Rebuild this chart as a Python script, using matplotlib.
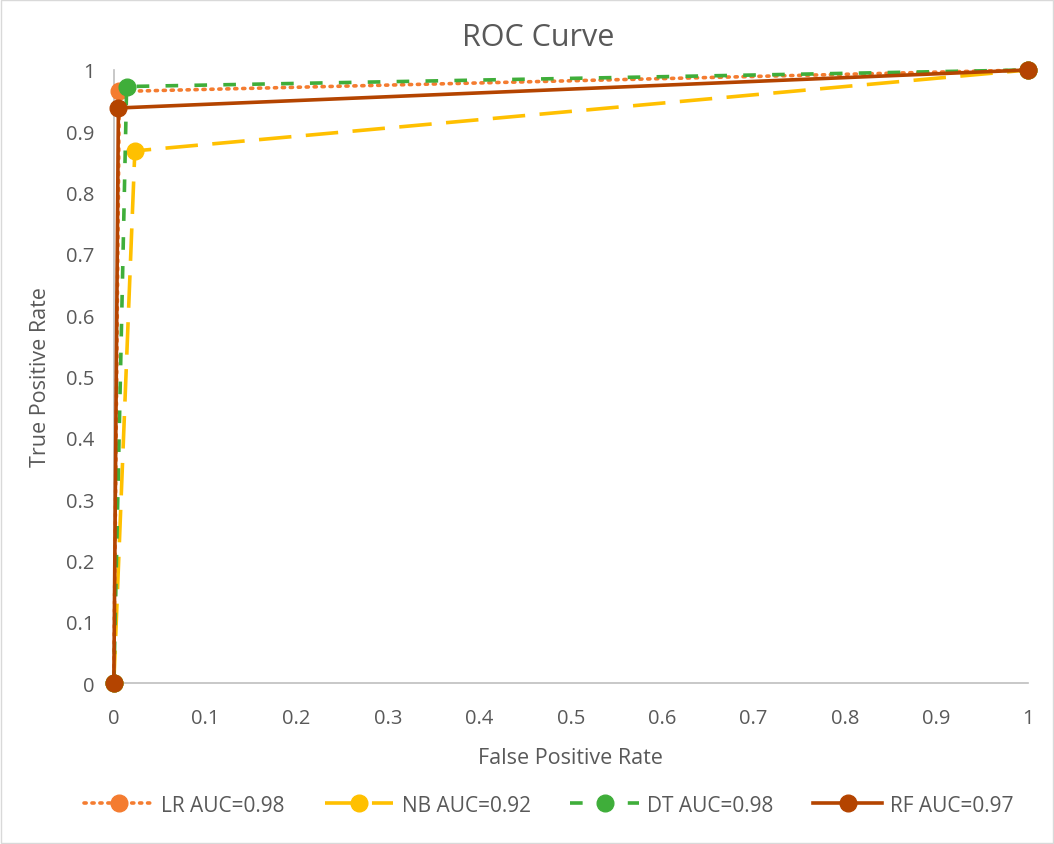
import matplotlib
matplotlib.use('Agg')
import matplotlib.pyplot as plt
from matplotlib.patches import Rectangle

plt.rcParams['font.family'] = ['Open Sans', 'DejaVu Sans']

# ROC points per model
lr_fpr = [0, 0.006, 1]
lr_tpr = [0, 0.965, 1]
nb_fpr = [0, 0.023, 1]
nb_tpr = [0, 0.868, 1]
dt_fpr = [0, 0.014, 1]
dt_tpr = [0, 0.973, 1]
rf_fpr = [0, 0.005, 1]
rf_tpr = [0, 0.938, 1]

labels = ['LR AUC=0.98', 'NB AUC=0.92', 'DT AUC=0.98', 'RF AUC=0.97']
xticks = [0, 0.1, 0.2, 0.3, 0.4, 0.5, 0.6, 0.7, 0.8, 0.9, 1]
yticks = [0, 0.1, 0.2, 0.3, 0.4, 0.5, 0.6, 0.7, 0.8, 0.9, 1]

text_col = '#595959'
fig = plt.figure(figsize=(10.54, 8.45), dpi=100)
ax = fig.add_axes([0.108, 0.1905, 0.867, 0.7255])

ms = 12
lw = 2.6
ax.plot(nb_fpr, nb_tpr, color='#FFC000', ls=(0, (9, 4)), lw=lw, marker='o', ms=ms,
        label=labels[1], clip_on=False, zorder=3)
ax.plot(lr_fpr, lr_tpr, color='#F47C30', ls=(0, (0.6, 1.6)), dash_capstyle='round', lw=lw,
        marker='o', ms=ms, label=labels[0], clip_on=False, zorder=4)
ax.plot(dt_fpr, dt_tpr, color='#3FAE3A', ls=(0, (3.5, 4.5)), lw=lw, marker='o', ms=ms,
        label=labels[2], clip_on=False, zorder=5)
ax.plot(rf_fpr, rf_tpr, color='#B44400', ls='-', lw=lw, marker='o', ms=ms,
        label=labels[3], clip_on=False, zorder=6)

ax.set_xlim(0, 1)
ax.set_ylim(0, 1)
ax.set_xticks(xticks)
ax.set_xticklabels([f'{t:g}' for t in xticks])
ax.set_yticks(yticks)
ax.set_yticklabels([f'{t:g}' for t in yticks])
ax.tick_params(length=0, labelsize=14.5, labelcolor=text_col)
ax.tick_params(axis='x', pad=18)
ax.tick_params(axis='y', pad=14)
for s in ['top', 'right']:
    ax.spines[s].set_visible(False)
for s in ['left', 'bottom']:
    ax.spines[s].set_color('#BFBFBF')
    ax.spines[s].set_linewidth(1.2)

fig.text(0.511, 0.945, 'ROC Curve', fontsize=22, color=text_col, ha='center', va='baseline')
ax.set_xlabel('False Positive Rate', fontsize=15.5, color=text_col, labelpad=14)
ax.set_ylabel('True Positive Rate', fontsize=15.5, color=text_col, labelpad=11)

h, l = ax.get_legend_handles_labels()
order = [1, 0, 2, 3]
leg = fig.legend([h[i] for i in order], [l[i] for i in order], loc='center',
                 bbox_to_anchor=(0.521, 0.046), ncol=4, frameon=False, fontsize=15,
                 handlelength=3.3, columnspacing=1.9, handletextpad=0.4)
for t in leg.get_texts():
    t.set_color(text_col)

fig.patches.append(Rectangle((0.001, 0.001), 0.998, 0.998, transform=fig.transFigure,
                             fill=False, edgecolor='#D9D9D9', lw=1))

fig.savefig('out.png', dpi=100)
